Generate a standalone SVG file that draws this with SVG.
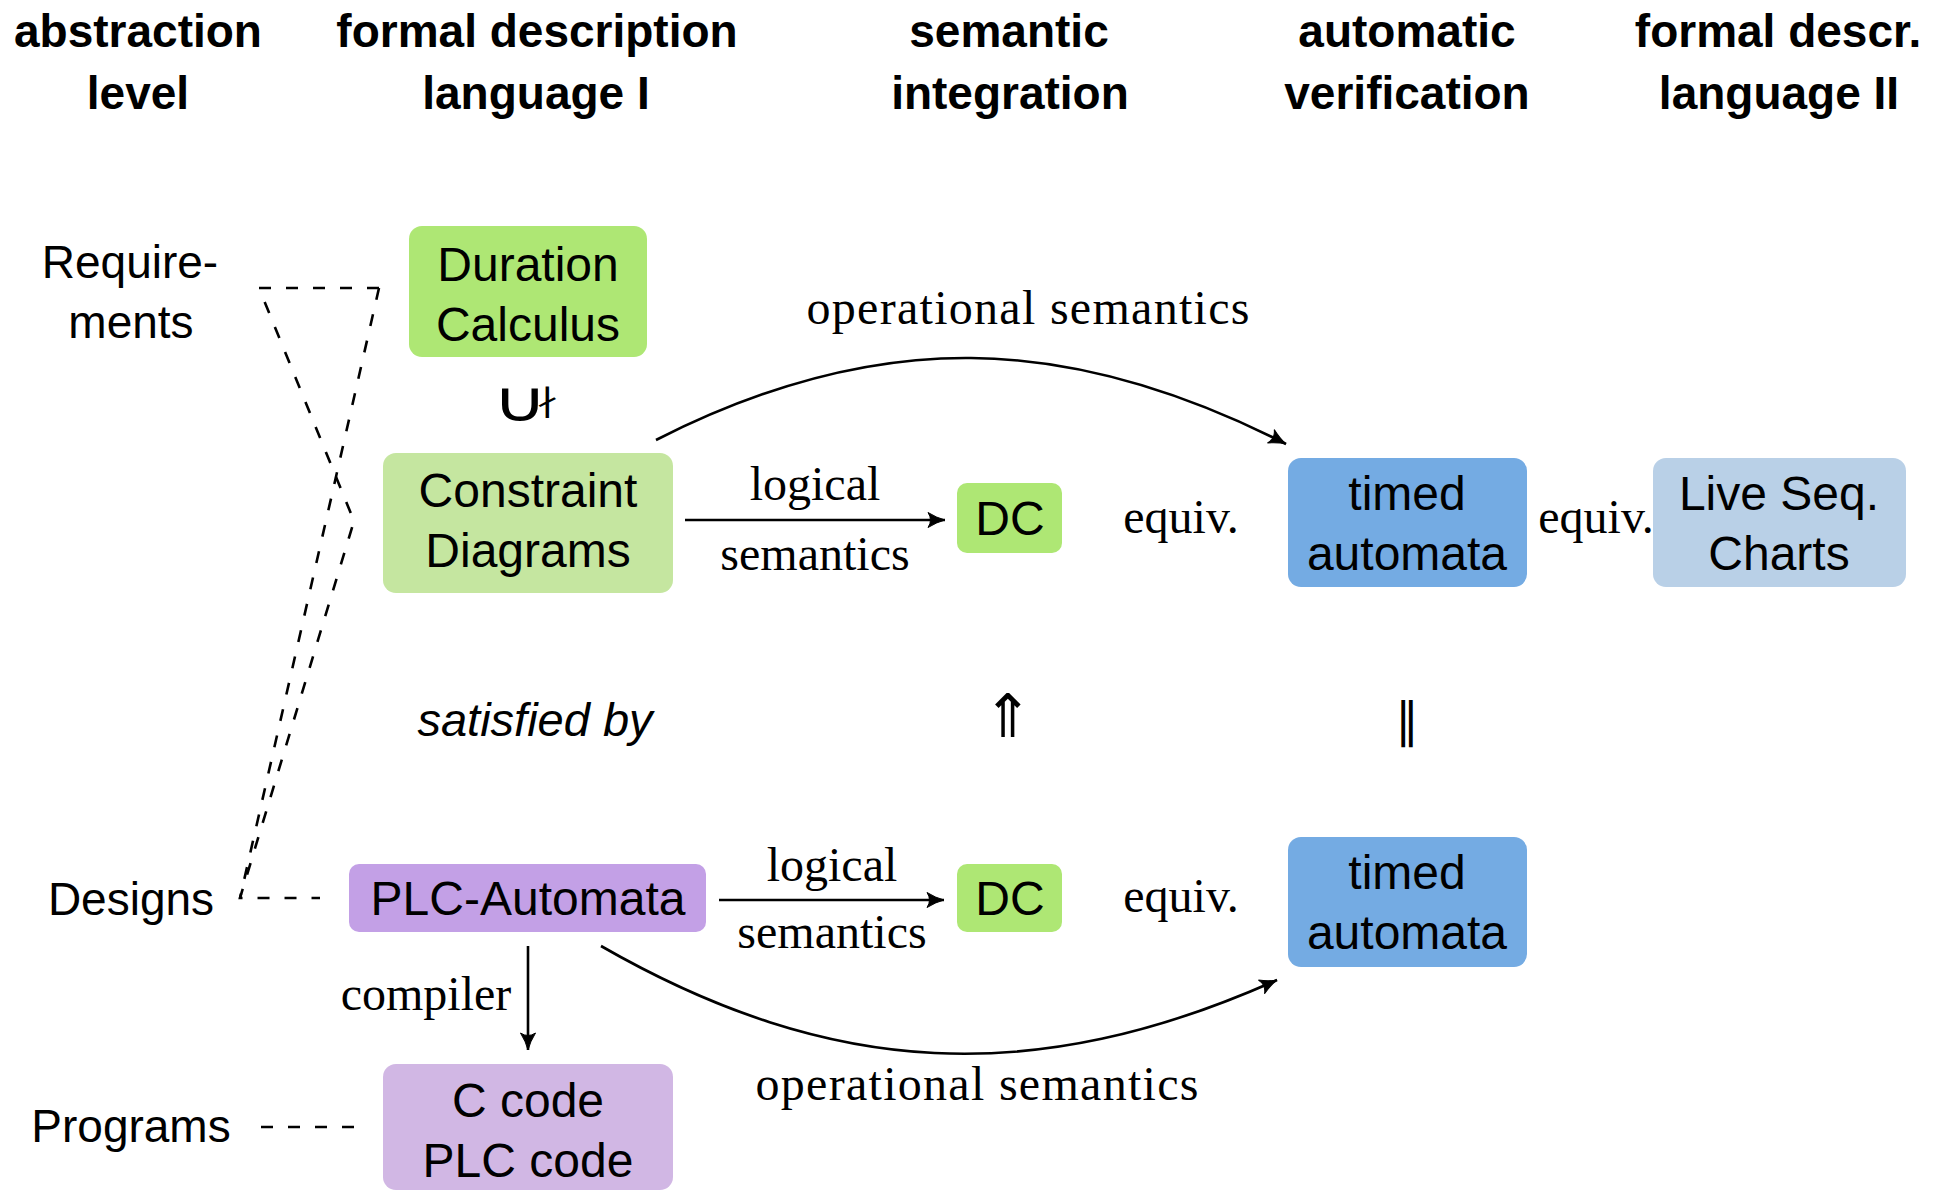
<svg xmlns="http://www.w3.org/2000/svg" width="1946" height="1192" viewBox="0 0 1946 1192">
<style>
.hdr{font-family:"Liberation Sans",Arial,sans-serif;font-weight:bold;font-size:46px;text-anchor:middle;fill:#000}
.nt{font-family:"Liberation Sans",Arial,sans-serif;font-size:48px;text-anchor:middle;fill:#000}
.lvl{font-family:"Liberation Sans",Arial,sans-serif;font-size:46px;text-anchor:middle;fill:#000}
.lbl{font-family:"Liberation Serif","Times New Roman",serif;font-size:48px;text-anchor:middle;fill:#000}
.sym{font-family:"DejaVu Sans",sans-serif;text-anchor:middle;fill:#000}
.dash{fill:none;stroke:#000;stroke-width:2.6;stroke-dasharray:12 15}
.edge{fill:none;stroke:#000;stroke-width:2.6;marker-end:url(#arr)}
.g1{fill:#aee774}.g2{fill:#c5e6a0}.b1{fill:#74abe3}.b2{fill:#b9d0e7}.p1{fill:#c3a0e6}.p2{fill:#d1b7e4}
</style>
<defs>
<marker id="arr" markerUnits="userSpaceOnUse" markerWidth="24" markerHeight="20" refX="0" refY="0" viewBox="-20 -10 24 20" orient="auto">
<path d="M0,0 Q-8,-2 -17,-7.5 Q-12,0 -17,7.5 Q-8,2 0,0 Z" fill="#000" stroke="#000" stroke-width="1"/>
</marker>
</defs>
<rect width="1946" height="1192" fill="#fff"/>
<g id="headers">
<text class="hdr" x="138" y="47">abstraction</text><text class="hdr" x="138" y="109">level</text>
<text class="hdr" x="537" y="47">formal description</text><text class="hdr" x="536" y="109">language I</text>
<text class="hdr" x="1009" y="47">semantic</text><text class="hdr" x="1010" y="109">integration</text>
<text class="hdr" x="1407" y="47">automatic</text><text class="hdr" x="1407" y="109">verification</text>
<text class="hdr" x="1778" y="47">formal descr.</text><text class="hdr" x="1779" y="109">language II</text>
</g>
<g id="levels">
<text class="lvl" x="130" y="278">Require-</text><text class="lvl" x="131" y="338">ments</text>
<text class="lvl" x="131" y="915">Designs</text>
<text class="lvl" x="131" y="1142">Programs</text>
</g>
<g id="level-brackets">
<path class="dash" d="M379,288 H259 L354,521 L240,898 H320"/>
<path class="dash" d="M379,288 L240,898"/>
<path class="dash" d="M261,1127 H354"/>
</g>
<g id="duration-calculus"><rect class="g1" x="409" y="226" width="238" height="131" rx="13"/><text class="nt" x="528" y="281">Duration</text><text class="nt" x="528" y="341">Calculus</text></g>
<g id="constraint-diagrams"><rect class="g2" x="383" y="453" width="290" height="140" rx="13"/><text class="nt" x="528" y="507">Constraint</text><text class="nt" x="528" y="567">Diagrams</text></g>
<g id="dc-top"><rect class="g1" x="957" y="483" width="105" height="70" rx="10"/><text class="nt" x="1010" y="535">DC</text></g>
<g id="timed-automata-top"><rect class="b1" x="1288" y="458" width="239" height="129" rx="13"/><text class="nt" x="1407" y="510">timed</text><text class="nt" x="1407" y="570">automata</text></g>
<g id="live-seq-charts"><rect class="b2" x="1653" y="458" width="253" height="129" rx="13"/><text class="nt" x="1779" y="510">Live Seq.</text><text class="nt" x="1779" y="570">Charts</text></g>
<g id="plc-automata"><rect class="p1" x="349" y="864" width="357" height="68" rx="10"/><text class="nt" x="528" y="915">PLC-Automata</text></g>
<g id="dc-bottom"><rect class="g1" x="957" y="864" width="105" height="68" rx="10"/><text class="nt" x="1010" y="915">DC</text></g>
<g id="timed-automata-bottom"><rect class="b1" x="1288" y="837" width="239" height="130" rx="13"/><text class="nt" x="1407" y="889">timed</text><text class="nt" x="1407" y="949">automata</text></g>
<g id="code"><rect class="p2" x="383" y="1064" width="290" height="126" rx="13"/><text class="nt" x="528" y="1117">C code</text><text class="nt" x="528" y="1177">PLC code</text></g>
<g id="connectors">
<path class="edge" d="M656,440 C876,328 1066,332 1286,444"/>
<path class="edge" d="M685,520 H945"/>
<path class="edge" d="M719,900 H944"/>
<path class="edge" d="M601,946 C831,1078 1035,1088 1277,980"/>
<path class="edge" d="M528,946 V1050"/>
</g>
<g id="labels">
<text class="lbl" x="1028" y="324" textLength="443" lengthAdjust="spacing">operational semantics</text>
<text class="lbl" x="815" y="500">logical</text><text class="lbl" x="815" y="570">semantics</text>
<text class="lbl" x="1181" y="533">equiv.</text>
<text class="lbl" x="1596" y="533">equiv.</text>
<text class="lbl" x="832" y="881">logical</text><text class="lbl" x="832" y="948">semantics</text>
<text class="lbl" x="1181" y="912">equiv.</text>
<text class="lbl" x="977" y="1100" textLength="443" lengthAdjust="spacing">operational semantics</text>
<text class="lbl" x="426" y="1010">compiler</text>
<text x="535" y="736" style="font-family:'Liberation Sans',Arial,sans-serif;font-style:italic;font-size:47px;text-anchor:middle">satisfied by</text>
<text class="sym" x="1008" y="737" font-size="60">⇑</text>
<text class="sym" x="1407" y="737" font-size="48">∥</text>
<text class="sym" transform="translate(520,421) scale(1.35,1)"><tspan x="0" y="0" font-size="56">∪</tspan><tspan x="20" y="-10" font-size="32">∤</tspan></text>
</g>
</svg>
